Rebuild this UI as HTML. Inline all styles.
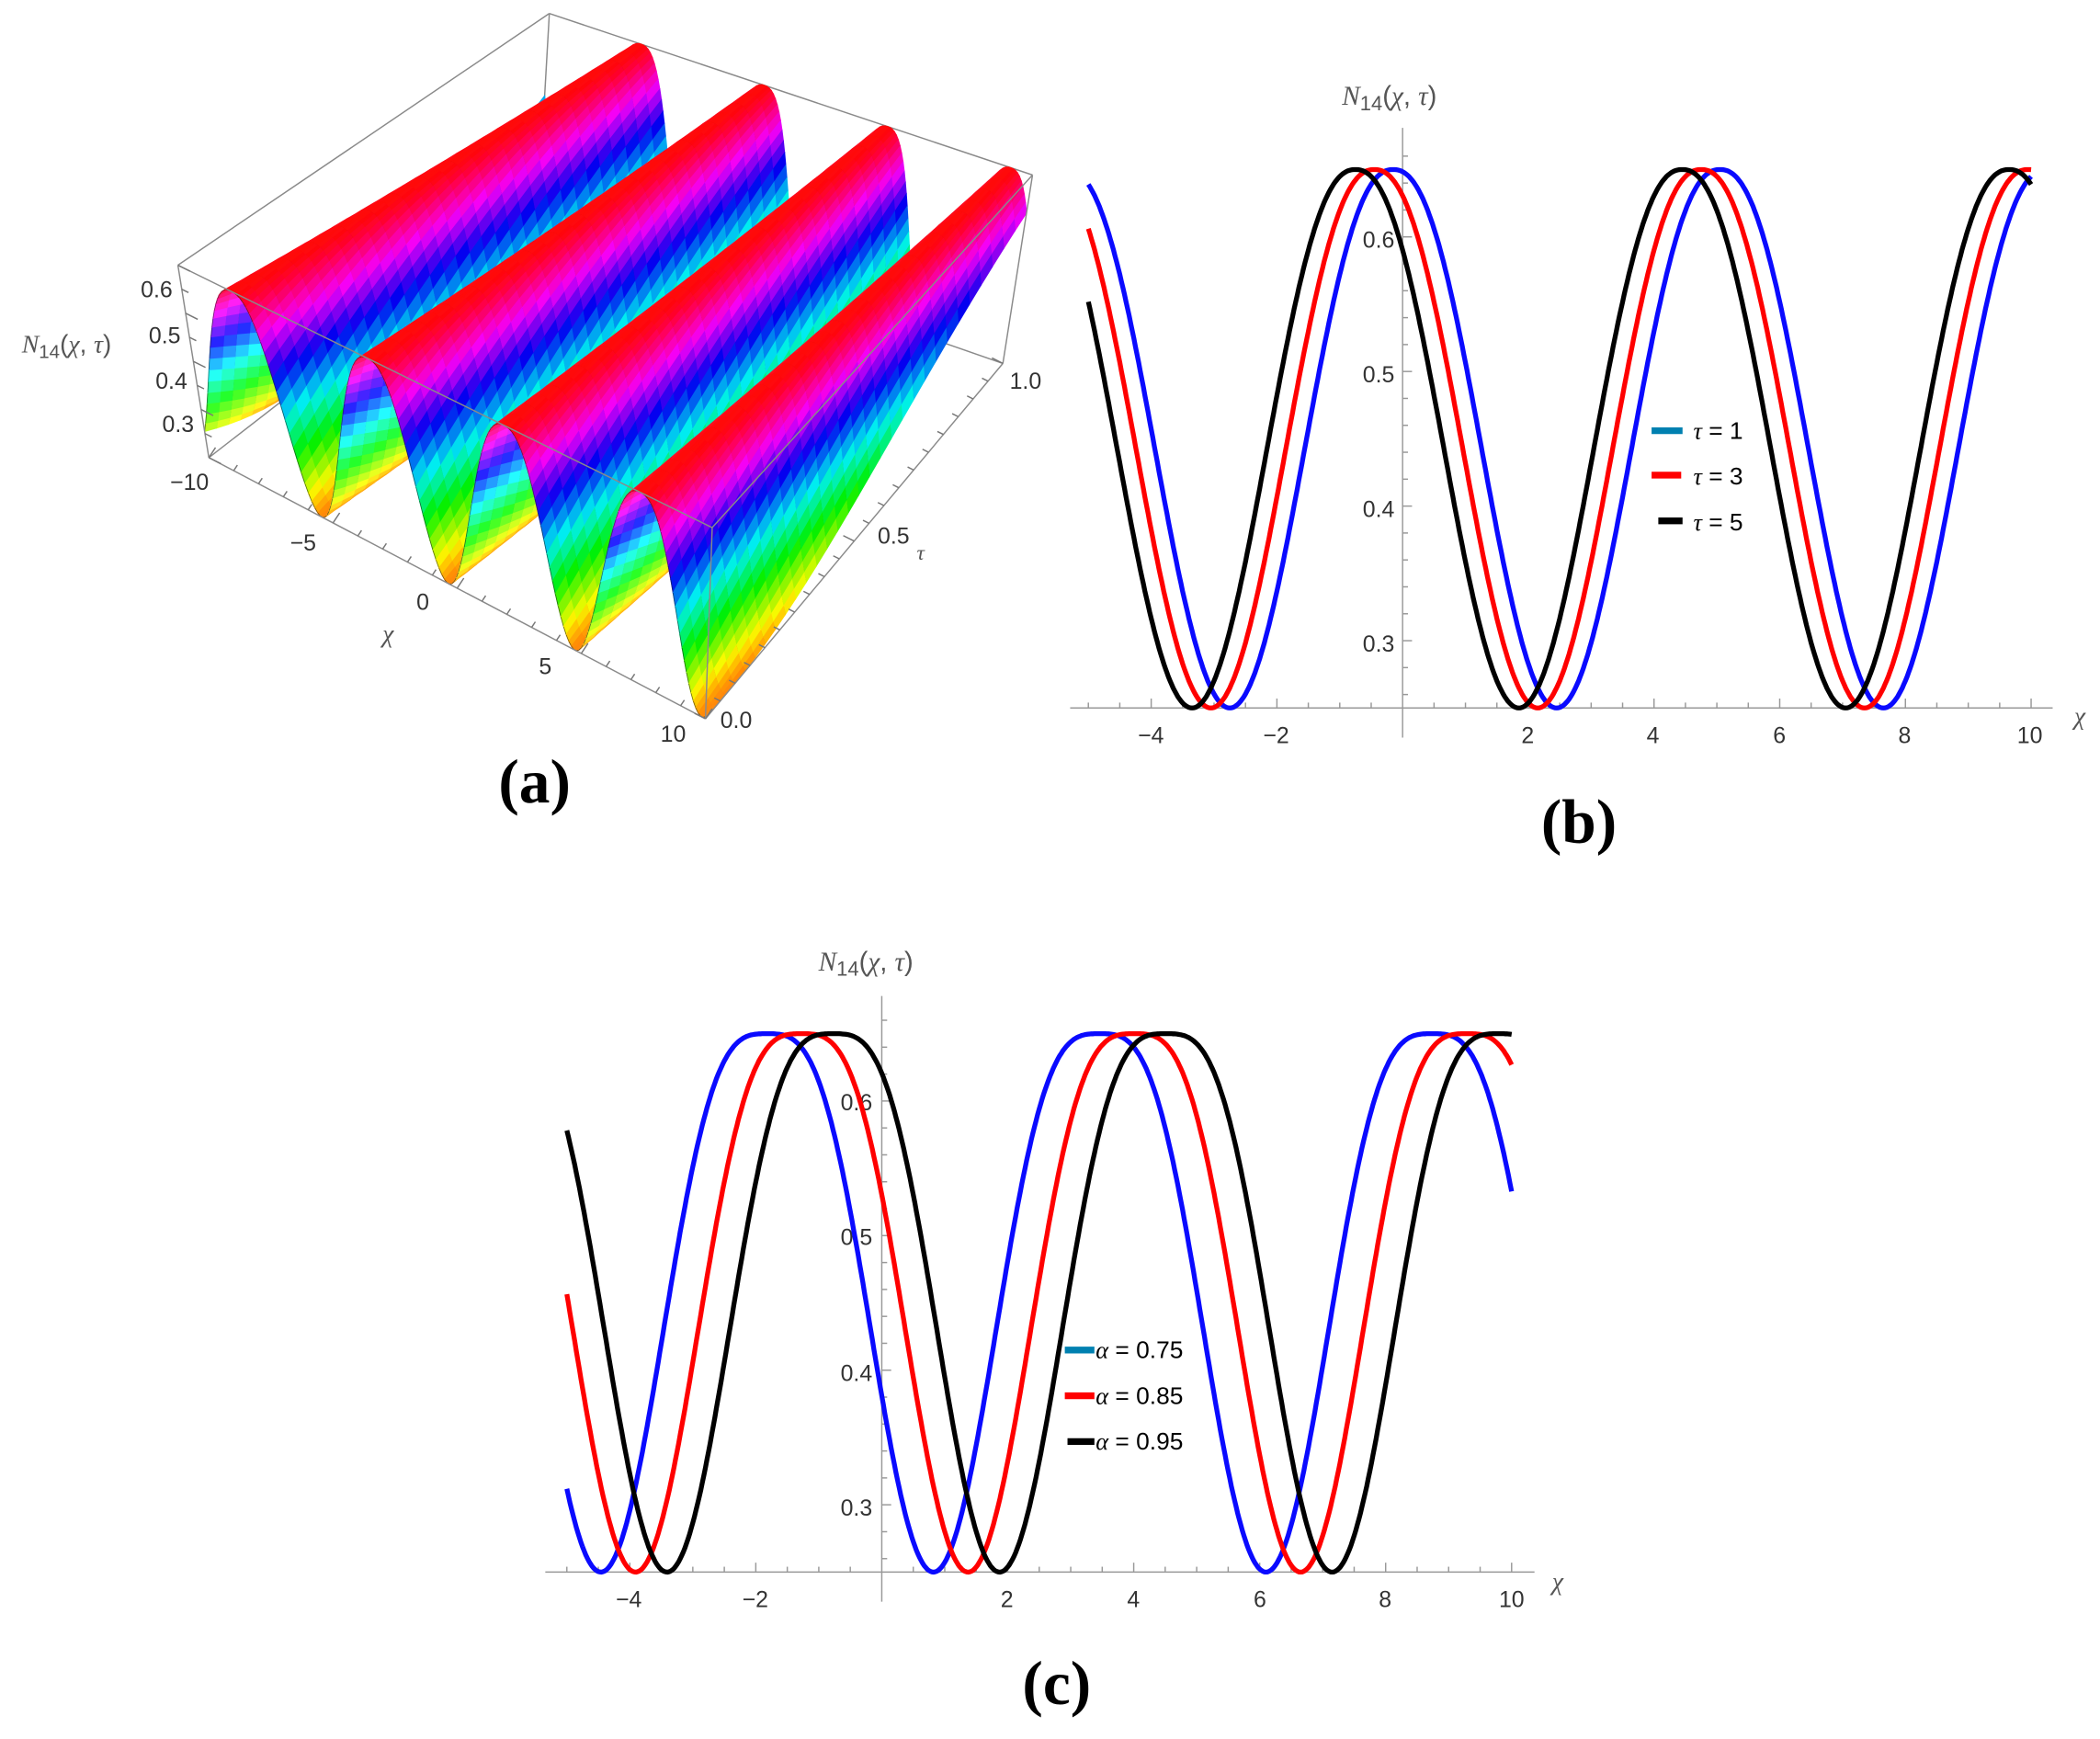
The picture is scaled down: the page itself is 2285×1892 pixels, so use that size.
<!DOCTYPE html>
<html><head><meta charset="utf-8">
<style>
html,body{margin:0;padding:0;background:#fff;}
svg{display:block;}
text{font-family:"Liberation Sans",sans-serif;}
.t{font-size:17px;fill:#333;}
.it{font-family:"Liberation Serif",serif;font-style:italic;}
.big{font-family:"Liberation Serif",serif;font-weight:bold;font-size:46px;fill:#000;}
</style></head>
<body>
<svg id="s" width="2285" height="1892" viewBox="0 0 1560 1292" xmlns="http://www.w3.org/2000/svg">
<g id="back"></g>
<g id="mesh"></g>
<g id="front"></g>
<g id="axes"></g>
<text class="t" x="128" y="221" text-anchor="end">0.6</text>
<text class="t" x="134" y="255" text-anchor="end">0.5</text>
<text class="t" x="139" y="289" text-anchor="end">0.4</text>
<text class="t" x="144" y="321" text-anchor="end">0.3</text>
<text x="16" y="262" style="font-size:19px;fill:#555"><tspan class="it">N</tspan><tspan style="font-size:14px" dy="4">14</tspan><tspan dy="-4">(</tspan><tspan class="it">χ</tspan>, <tspan class="it">τ</tspan>)</text>
<text class="t" x="155" y="364" text-anchor="end">−10</text>
<text class="t" x="225" y="409" text-anchor="middle">−5</text>
<text class="t" x="314" y="453" text-anchor="middle">0</text>
<text class="t" x="405" y="501" text-anchor="middle">5</text>
<text class="t" x="500" y="551" text-anchor="middle">10</text>
<text class="t it" x="284" y="477" style="font-size:19px;fill:#555">χ</text>
<text class="t" x="535" y="541">0.0</text>
<text class="t" x="652" y="404">0.5</text>
<text class="t it" x="681" y="416" style="font-size:16px;fill:#555">τ</text>
<text class="t" x="750" y="289">1.0</text>
<text class="big" x="397" y="596" text-anchor="middle">(a)</text>

<text x="997" y="78" style="font-size:20px;fill:#555"><tspan class="it">N</tspan><tspan style="font-size:15px" dy="4">14</tspan><tspan dy="-4">(</tspan><tspan class="it">χ</tspan>, <tspan class="it">τ</tspan>)</text>
<text class="t it" x="1541" y="538" style="font-size:19px;fill:#555">χ</text>
<text class="t" x="1036" y="184" text-anchor="end">0.6</text>
<text class="t" x="1036" y="284" text-anchor="end">0.5</text>
<text class="t" x="1036" y="384" text-anchor="end">0.4</text>
<text class="t" x="1036" y="484" text-anchor="end">0.3</text>
<text class="t" x="855" y="552" text-anchor="middle">−4</text>
<text class="t" x="948" y="552" text-anchor="middle">−2</text>
<text class="t" x="1135" y="552" text-anchor="middle">2</text>
<text class="t" x="1228" y="552" text-anchor="middle">4</text>
<text class="t" x="1322" y="552" text-anchor="middle">6</text>
<text class="t" x="1415" y="552" text-anchor="middle">8</text>
<text class="t" x="1508" y="552" text-anchor="middle">10</text>
<text class="big" x="1173" y="626" text-anchor="middle">(b)</text>

<text x="608" y="721" style="font-size:20px;fill:#555"><tspan class="it">N</tspan><tspan style="font-size:15px" dy="4">14</tspan><tspan dy="-4">(</tspan><tspan class="it">χ</tspan>, <tspan class="it">τ</tspan>)</text>
<text class="t it" x="1153" y="1181" style="font-size:19px;fill:#555">χ</text>
<text class="t" x="648" y="825" text-anchor="end">0.6</text>
<text class="t" x="648" y="925" text-anchor="end">0.5</text>
<text class="t" x="648" y="1026" text-anchor="end">0.4</text>
<text class="t" x="648" y="1126" text-anchor="end">0.3</text>
<text class="t" x="467" y="1194" text-anchor="middle">−4</text>
<text class="t" x="561" y="1194" text-anchor="middle">−2</text>
<text class="t" x="748" y="1194" text-anchor="middle">2</text>
<text class="t" x="842" y="1194" text-anchor="middle">4</text>
<text class="t" x="936" y="1194" text-anchor="middle">6</text>
<text class="t" x="1029" y="1194" text-anchor="middle">8</text>
<text class="t" x="1123" y="1194" text-anchor="middle">10</text>
<text class="big" x="785" y="1266" text-anchor="middle">(c)</text>

<g id="curves"></g>

<g>
<line x1="1227" y1="320" x2="1250" y2="320" stroke="#0080b0" stroke-width="5"/>
<line x1="1227" y1="353" x2="1249" y2="353" stroke="#f00" stroke-width="5"/>
<line x1="1232" y1="387" x2="1250" y2="387" stroke="#000" stroke-width="5"/>
<text x="1258" y="326" style="font-size:18px"><tspan class="it">τ</tspan> = 1</text>
<text x="1258" y="360" style="font-size:18px"><tspan class="it">τ</tspan> = 3</text>
<text x="1258" y="394" style="font-size:18px"><tspan class="it">τ</tspan> = 5</text>
<line x1="791" y1="1003" x2="813" y2="1003" stroke="#0080b0" stroke-width="5"/>
<line x1="791" y1="1037" x2="813" y2="1037" stroke="#f00" stroke-width="5"/>
<line x1="793" y1="1071" x2="813" y2="1071" stroke="#000" stroke-width="5"/>
<text x="814" y="1009" style="font-size:18px"><tspan class="it">α</tspan> = 0.75</text>
<text x="814" y="1043" style="font-size:18px"><tspan class="it">α</tspan> = 0.85</text>
<text x="814" y="1077" style="font-size:18px"><tspan class="it">α</tspan> = 0.95</text>
</g>
</svg>
<script>
(function(){
var NS="http://www.w3.org/2000/svg";
function el(p,tag,a){var e=document.createElementNS(NS,tag);for(var k in a)e.setAttribute(k,a[k]);p.appendChild(e);return e;}
function f(x,peak,P,p){var s=Math.abs(Math.sin(Math.PI*(x-peak)/P));return 0.25+0.4*(1-Math.pow(s,p));}
var B=[[155,340],[524,534],[745,270],[400,150]],T=[[132,197],[529,392],[767,130],[408,10]];
function bil(Q,u,v){return[(1-u)*(1-v)*Q[0][0]+u*(1-v)*Q[1][0]+u*v*Q[2][0]+(1-u)*v*Q[3][0],
(1-u)*(1-v)*Q[0][1]+u*(1-v)*Q[1][1]+u*v*Q[2][1]+(1-u)*v*Q[3][1]];}
function P3(x,t,z){var u=(x+10)/20,w=(z-0.25)/0.4;var b=bil(B,u,t),c=bil(T,u,t);return[b[0]+(c[0]-b[0])*w,b[1]+(c[1]-b[1])*w];}
function Z(x,t){return f(x,-8+1.8*t,5.1,2.5);}
var back=document.getElementById('back'),front=document.getElementById('front'),mesh=document.getElementById('mesh');
function ln(g,a,b,c){el(g,'line',{x1:a[0],y1:a[1],x2:b[0],y2:b[1],stroke:c||'#8a8a8a','stroke-width':1});}
ln(back,T[0],T[3]);ln(back,T[3],T[2]);ln(back,T[3],B[3]);ln(back,B[0],B[3]);ln(back,B[3],B[2]);
var NX=200,NT=30;
var frag=document.createDocumentFragment();
for(var j=NT-1;j>=0;j--){
 for(var i=0;i<NX;i++){
  var x0=-10+20*i/NX,x1=-10+20*(i+1)/NX,t0=j/NT,t1=(j+1)/NT;
  var z00=Z(x0,t0),z10=Z(x1,t0),z11=Z(x1,t1),z01=Z(x0,t1);
  var a=P3(x0,t0,z00),b=P3(x1,t0,z10),c=P3(x1,t1,z11),e=P3(x0,t1,z01);
  var zm=(z00+z10+z11+z01)/4;var h=30+330*(zm-0.25)/0.4;
  var sl=(z10-z00)*20/0.4; var L=52+Math.max(-10,Math.min(8,sl*4));
  var col='hsl('+h.toFixed(0)+',100%,'+L.toFixed(0)+'%)';
  var pts=a.join(',')+' '+b.join(',')+' '+c.join(',')+' '+e.join(',');
  var pg=document.createElementNS(NS,'polygon');pg.setAttribute('points',pts);pg.setAttribute('fill',col);pg.setAttribute('stroke',col);pg.setAttribute('stroke-width','0.7');frag.appendChild(pg);
  if(j%2==0){var l=document.createElementNS(NS,'line');l.setAttribute('x1',a[0]);l.setAttribute('y1',a[1]);l.setAttribute('x2',b[0]);l.setAttribute('y2',b[1]);l.setAttribute('stroke','#222');l.setAttribute('stroke-width','0.5');l.setAttribute('stroke-opacity','0.7');frag.appendChild(l);}
 }
}
mesh.appendChild(frag);
ln(front,T[0],T[1]);ln(front,T[1],T[2]);ln(front,T[1],B[1]);ln(front,T[0],B[0]);ln(front,B[0],B[1]);ln(front,B[1],B[2]);ln(front,T[2],B[2]);
for(var k=0;k<=20;k++){var u=k/20;var p=[B[0][0]+(B[1][0]-B[0][0])*u,B[0][1]+(B[1][1]-B[0][1])*u];var L2=(k%5==0)?9:5;ln(front,p,[p[0]+L2*0.55,p[1]-L2*0.83],'#777');}
for(var k=0;k<=20;k++){var u=k/20;var p=[B[1][0]+(B[2][0]-B[1][0])*u,B[1][1]+(B[2][1]-B[1][1])*u];var L2=(k%10==0)?9:5;ln(front,p,[p[0]-L2*0.9,p[1]-L2*0.45],'#777');}
for(var k=0;k<=8;k++){var w=(k*0.05)/0.4;var p=[B[0][0]+(T[0][0]-B[0][0])*w,B[0][1]+(T[0][1]-B[0][1])*w];var L2=(k%2==0)?9:5;ln(front,p,[p[0]+L2,p[1]+L2*0.5],'#777');}
var ax=document.getElementById('axes'),cv=document.getElementById('curves');
function axes2(x0,y0,sx,yAxisX,xl,xr,yt,yb){
 ln(ax,[xl,y0],[xr,y0],'#999');ln(ax,[yAxisX,yt],[yAxisX,yb],'#999');
 for(var v=-5;v<=10.01;v+=0.5){var X=x0+v*sx;if(Math.abs(v)<0.01)continue;var L2=(Math.abs(v%2)<0.01)?7:4;ln(ax,[X,y0],[X,y0-L2],'#999');}
 for(var v=0.26;v<0.665;v+=0.02){var Y=y0-(v-0.25)*1000;var m=(v*10)%1;var maj=m<0.02||m>0.98;ln(ax,[yAxisX,Y],[yAxisX+(maj?7:4),Y],'#999');}
}
axes2(1042,526,46.7,1042,795,1525,95,548);
axes2(655,1168,46.8,655,405,1140,740,1190);
function curve(x0,y0,sx,peak,P,p,col){var s='';for(var k=0;k<=600;k++){var x=-5+15*k/600;var v=f(x,peak,P,p);s+=(k?'L':'M')+(x0+x*sx).toFixed(1)+','+(y0-(v-0.25)*1000).toFixed(1);}
 el(cv,'path',{d:s,fill:'none',stroke:col,'stroke-width':3.6});}
curve(1042,526,46.7,-0.15,5.2,2.3,'#0a0aff');
curve(1042,526,46.7,-0.45,5.2,2.3,'#ff0000');
curve(1042,526,46.7,-0.75,5.2,2.3,'#000');
curve(655,1168,46.8,-1.82,5.28,3.2,'#0a0aff');
curve(655,1168,46.8,-1.27,5.28,3.2,'#ff0000');
curve(655,1168,46.8,-0.77,5.28,3.2,'#000');
})();
</script>
</body></html>
